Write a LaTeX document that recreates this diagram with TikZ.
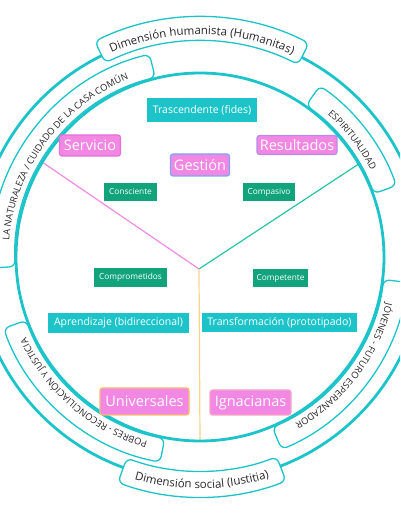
\documentclass[tikz,border=0pt]{standalone}
\usepackage{fontspec}
\setmainfont{Open Sans}
\usetikzlibrary{decorations.text}
\definecolor{cy}{RGB}{28,196,202}
\definecolor{gr}{RGB}{16,163,124}
\definecolor{pk}{RGB}{243,135,228}
\definecolor{pkline}{RGB}{240,140,225}
\definecolor{tealline}{RGB}{40,196,168}
\definecolor{yl}{RGB}{247,212,140}
\definecolor{txt}{RGB}{40,40,40}
\definecolor{bdA}{RGB}{228,112,218}
\definecolor{bdB}{RGB}{120,170,240}
\definecolor{bdC}{RGB}{180,140,235}
\definecolor{bdD}{RGB}{245,190,110}
\definecolor{bdE}{RGB}{245,165,195}
\begin{document}
\begin{tikzpicture}[x=1pt,y=1pt,
 cybox/.style={fill=cy, text=white, inner sep=0pt, font=\fontsize{10.5}{12}\selectfont},
 grbox/.style={fill=gr, text=white, inner sep=0pt, font=\fontsize{8.3}{10}\selectfont},
 pkbox/.style={fill=pk, text=white, rounded corners=2.5pt, inner sep=0pt, line width=1.2pt, font=\fontsize{14.5}{16}\selectfont},
 band/.style={draw=cy, line width=1.3pt, fill=white, rounded corners=6pt},
 ring/.style={draw=cy, line width=2.8pt},
 lbl/.style={decorate, decoration={text along path, text align=center, text={#1}}},
 conn/.style={line width=1.2pt}
]
\useasboundingbox (0,0) rectangle (400,516);
\clip (0,0) rectangle (400,516);
\fill[white] (0,0) rectangle (400,516);
\coordinate (C) at (200,259);
\coordinate (J) at (199,247);
\coordinate (PE) at (42.3,353.8);
\coordinate (TE) at (358.7,352);
\coordinate (YE) at (200,75);
\draw[conn, pkline] (J) -- (PE);
\draw[conn, tealline] (J) -- (TE);
\draw[conn, yl] (J) -- (YE);

\begin{scope}[shift={(C)}]
% side bands
\draw[band] (183:185) arc[start angle=183,end angle=104,radius=185] -- (104:209) arc[start angle=104,end angle=183,radius=209] -- cycle;
\path[lbl={|\fontsize{9.3}{10}\selectfont\color{txt}|LA NATURALEZA / CUIDADO DE LA CASA COMÚN}] (186:191.5) arc[start angle=186,end angle=101,radius=191.5];
\draw[band] (55:185) arc[start angle=55,end angle=20,radius=185] -- (20:209) arc[start angle=20,end angle=55,radius=209] -- cycle;
\path[lbl={|\fontsize{9.3}{10}\selectfont\color{txt}|ESPIRITUALIDAD}] (58:191.5) arc[start angle=58,end angle=17,radius=191.5];
\draw[band] (-7:185) arc[start angle=-7,end angle=-67,radius=185] -- (-67:209) arc[start angle=-67,end angle=-7,radius=209] -- cycle;
\path[lbl={|\fontsize{9.3}{10}\selectfont\color{txt}|JÓVENES - FUTURO ESPERANZADOR}] (-4:191.5) arc[start angle=-4,end angle=-70,radius=191.5];
\draw[band] (259:185) arc[start angle=259,end angle=200,radius=185] -- (200:209) arc[start angle=200,end angle=259,radius=209] -- cycle;
\path[lbl={|\fontsize{9.3}{10}\selectfont\color{txt}|POBRES - RECONCILIACIÓN Y JUSTICIA}] (262:191.5) arc[start angle=262,end angle=197,radius=191.5];
% rings
\draw[ring] (0,0) circle[radius=184];
\draw[ring] (0,0) circle[radius=224];
% top and bottom bands
\draw[band] (116:216) arc[start angle=116,end angle=63,radius=216] -- (63:240) arc[start angle=63,end angle=116,radius=240] -- cycle;
\path[lbl={|\fontsize{11.5}{13}\selectfont\color{txt}|Dimensión humanista (Humanitas)}] (119:222.5) arc[start angle=119,end angle=60,radius=222.5];
\draw[band] (250:214) arc[start angle=250,end angle=291,radius=214] -- (291:240) arc[start angle=291,end angle=250,radius=240] -- cycle;
\path[lbl={|\fontsize{11.5}{13}\selectfont\color{txt}|Dimensión social (Iustitia)}] (245:231.5) arc[start angle=245,end angle=296,radius=231.5];
\end{scope}

\node[cybox, minimum width=110pt, minimum height=24pt] (trasc) at (202,406) {Trascendente (fides)};
\node[pkbox, draw=bdA, minimum width=61pt, minimum height=21pt] (servicio) at (90,370.5) {Servicio};
\node[pkbox, draw=bdB, minimum width=59pt, minimum height=22pt] (gestion) at (200,351) {Gestión};
\node[pkbox, draw=bdC, minimum width=80pt, minimum height=19pt] (resultados) at (297,371) {Resultados};
\node[grbox, minimum width=53pt, minimum height=18pt] (consciente) at (130.5,324) {Consciente};
\node[grbox, minimum width=52pt, minimum height=18pt] (compasivo) at (269,324) {Compasivo};
\node[grbox, minimum width=73pt, minimum height=19pt] (comprometidos) at (130.5,238.5) {Comprometidos};
\node[grbox, minimum width=55pt, minimum height=18pt] (competente) at (280.5,238) {Competente};
\node[cybox, minimum width=141pt, minimum height=20pt] (aprendizaje) at (118.5,193) {Aprendizaje (bidireccional)};
\node[cybox, minimum width=155pt, minimum height=19pt] (transformacion) at (279.5,193.5) {Transformación (prototipado)};
\node[pkbox, draw=bdD, minimum width=89pt, minimum height=27pt] (universales) at (144.5,114.5) {Universales};
\node[pkbox, draw=bdE, minimum width=81pt, minimum height=25pt] (ignacianas) at (250.5,113.5) {Ignacianas};
\end{tikzpicture}
\end{document}
